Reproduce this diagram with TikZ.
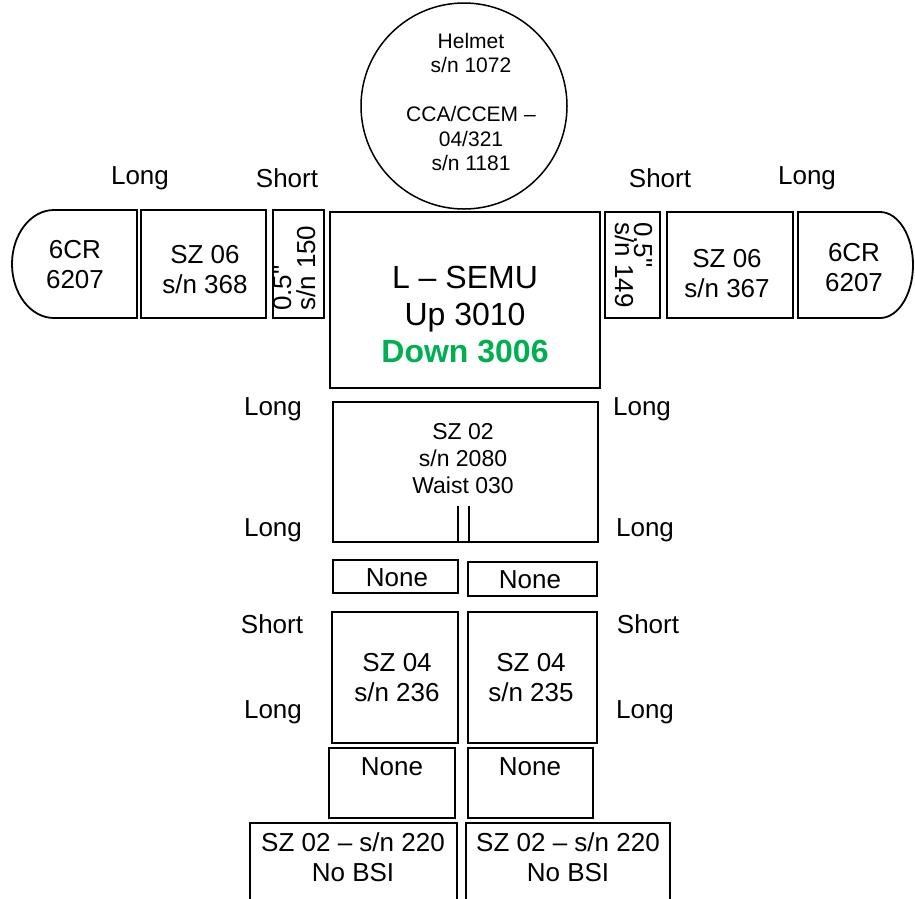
\documentclass[tikz,border=0pt]{standalone}
\usepackage{fontspec}
\setmainfont{Liberation Sans}
\newfontfamily\plainfont{Liberation Sans}
\definecolor{dgreen}{RGB}{0,176,80}
\begin{document}
\begin{tikzpicture}[x=1pt,y=-1pt,
  box/.style={draw, line width=1.8pt, inner sep=0pt, rectangle},
  txt/.style={font=\fontsize{26}{30}\selectfont, align=center, inner sep=0pt},
  big/.style={font=\fontsize{32}{37}\selectfont, align=center, inner sep=0pt},
  small/.style={font=\fontsize{21}{24.5}\selectfont, align=center, inner sep=0pt},
  waist/.style={font=\fontsize{23}{27}\selectfont, align=center, inner sep=0pt},
  vtxt/.style={font=\plainfont\fontsize{26}{30}\selectfont, inner sep=0pt},
  lbl/.style={font=\fontsize{26}{30}\selectfont, inner sep=0pt}]
\clip (0,0) rectangle (915,898);
% head
\node[draw, circle, line width=1.5pt, minimum size=206pt, inner sep=0pt] (helmet) at (464,106) {};
\node[small] (helmettxt) at (471,102) {Helmet\\s/n 1072\\[24.5pt]CCA/CCEM –\\04/321\\s/n 1181};
% torso
\node[box, minimum width=270pt, minimum height=176pt] (semu) at (465,300) {};
\node[big] (semutxt) at (465,314) {L – SEMU\\Up 3010\\\textcolor{dgreen}{\bfseries Down 3006}};
% left arm
\node[box, minimum width=51pt, minimum height=108pt] (lshort) at (298.5,264) {};
\node[vtxt, rotate=90, anchor=base west] (lshortA) at (291,311) {0.5"};
\node[vtxt, rotate=90, anchor=base west] (lshortB) at (315,311) {s/n 150};
\node[box, minimum width=125pt, minimum height=108pt] (lsz06) at (203.5,264) {};
\node[txt] (lsz06txt) at (205,270) {SZ 06\\s/n 368};
\draw[line width=1.8pt] (137,210) -- (54,210) arc[start angle=270, end angle=90, x radius=42, y radius=54] -- (137,318) -- cycle;
\node[txt] (l6cr) at (75,265) {6CR\\6207};
% right arm
\node[box, minimum width=55pt, minimum height=106pt] (rshort) at (632.5,265) {};
\node[vtxt, rotate=-90, anchor=base west] (rshortA) at (634,222) {0.5"};
\node[vtxt, rotate=-90, anchor=base west] (rshortB) at (615,222) {s/n 149};
\node[box, minimum width=126pt, minimum height=106pt] (rsz06) at (730,265) {};
\node[txt] (rsz06txt) at (727,274) {SZ 06\\s/n 367};
\draw[line width=1.8pt] (798,212) -- (880,212) arc[start angle=270, end angle=450, x radius=33, y radius=53] -- (798,318) -- cycle;
\node[txt] (r6cr) at (854,268) {6CR\\6207};
% waist
\node[box, minimum width=265pt, minimum height=140pt] (sz02) at (465.5,472) {};
\node[waist] (sz02txt) at (463,459) {SZ 02\\s/n 2080\\Waist 030};
\draw[line width=1.8pt] ([xshift=-7.5pt]sz02.south) -- ++(0,-37);
\draw[line width=1.8pt] ([xshift=3.5pt]sz02.south) -- ++(0,-37);
% upper legs
\node[box, minimum width=125pt, minimum height=33pt] (noneTL) at (395.5,576.5) {};
\node[lbl] (noneTLt) at (397,578) {None};
\node[box, minimum width=129pt, minimum height=34pt] (noneTR) at (532.5,579) {};
\node[lbl] (noneTRt) at (530,580) {None};
\node[box, minimum width=126pt, minimum height=131pt] (sz04L) at (395,677.5) {};
\node[txt] (sz04Lt) at (397,678) {SZ 04\\s/n 236};
\node[box, minimum width=129pt, minimum height=131pt] (sz04R) at (532.5,677.5) {};
\node[txt] (sz04Rt) at (531,678) {SZ 04\\s/n 235};
\node[box, minimum width=126pt, minimum height=70pt] (noneBL) at (392,783) {};
\node[lbl] (noneBLt) at (392,767) {None};
\node[box, minimum width=125pt, minimum height=70pt] (noneBR) at (530.5,783) {};
\node[lbl] (noneBRt) at (530,767) {None};
% boots
\node[box, minimum width=207pt, minimum height=82pt] (bsiL) at (353.5,864) {};
\node[txt] (bsiLt) at (353,857) {SZ 02 – s/n 220\\No BSI};
\node[box, minimum width=204pt, minimum height=82pt] (bsiR) at (568,864) {};
\node[txt] (bsiRt) at (568,857) {SZ 02 – s/n 220\\No BSI};
% labels
\node[lbl] (t1) at (140,178) {Long};
\node[lbl] (t2) at (287,178) {Short};
\node[lbl] (t3) at (660,178) {Short};
\node[lbl] (t4) at (807,178) {Long};
\node[lbl] (t5) at (273,409) {Long};
\node[lbl] (t6) at (642,409) {Long};
\node[lbl] (t7) at (273,530) {Long};
\node[lbl] (t8) at (645,530) {Long};
\node[lbl] (t9) at (272,624) {Short};
\node[lbl] (t10) at (648,624) {Short};
\node[lbl] (t11) at (273,712) {Long};
\node[lbl] (t12) at (645,712) {Long};
\end{tikzpicture}
\end{document}
